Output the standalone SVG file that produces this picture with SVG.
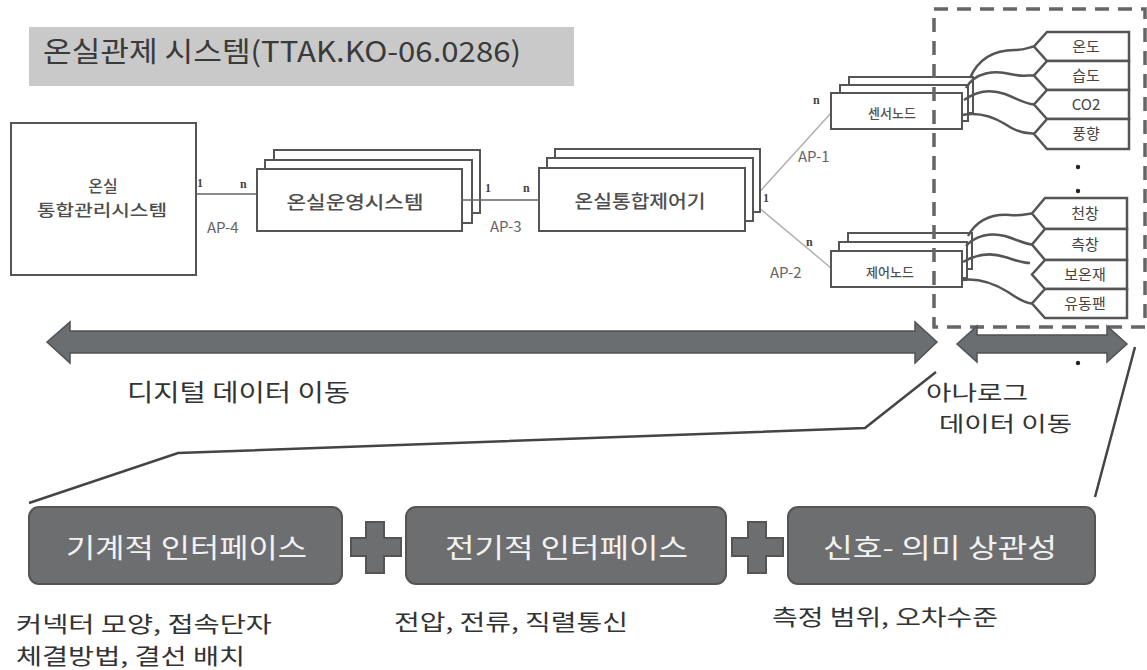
<svg xmlns="http://www.w3.org/2000/svg" width="1147" height="670" viewBox="0 0 1147 670">
<defs>
<style>
.kr{font-family:"Noto Sans CJK KR","Noto Sans",sans-serif;}
.box{fill:#fff;stroke:#555;stroke-width:2;}
.lbl{fill:#4f4f4f;font-weight:500;}
.num{font-family:"Liberation Serif",serif;font-size:12px;font-weight:bold;fill:#444;}
.ap{font-family:"Noto Sans CJK KR","Noto Sans",sans-serif;font-size:15px;fill:#666;}
.wire{fill:none;stroke:#555;stroke-width:2.5;}
.tag{fill:#fff;stroke:#555;stroke-width:2.5;}
.tagt{font-size:15px;fill:#444;text-anchor:middle;}
.conn{stroke:#666;stroke-width:1.5;fill:none;}
.connl{stroke:#b0b0b0;stroke-width:1.5;fill:none;}
.arrow{fill:#6b6e70;stroke:#505254;stroke-width:1.5;}
.ibox{fill:#6d6e70;stroke:#555;stroke-width:2;}
.itxt{font-size:27px;fill:#f2f2f2;}
.cap{font-size:22px;fill:#333;}
.big{font-size:24px;fill:#333;}
.lead{fill:none;stroke:#444;stroke-width:2.5;}
</style>
</defs>

<g id="title">
<rect x="29" y="27" width="545" height="59" fill="#c9c9c9"/>
<text class="kr" x="43" y="62" font-size="28" fill="#3a3a3a" textLength="478" lengthAdjust="spacingAndGlyphs">온실관제 시스템(TTAK.KO-06.0286)</text>
</g>

<g id="connectors">
<line class="conn" x1="196" y1="194" x2="257" y2="194"/>
<line class="connl" x1="745" y1="208" x2="831" y2="113"/>
<line class="connl" x1="745" y1="196" x2="831" y2="268"/>
</g>

<g id="node-integrated-mgmt">
<rect class="box" x="11" y="123" width="185" height="152"/>
<text class="kr lbl" x="103" y="192" font-size="16" text-anchor="middle">온실</text>
<text class="kr lbl" x="102" y="216" font-size="16" text-anchor="middle" textLength="130" lengthAdjust="spacingAndGlyphs">통합관리시스템</text>
</g>

<g id="node-operation">
<rect class="box" x="274" y="150" width="206" height="63"/>
<rect class="box" x="265" y="160" width="207" height="63"/>
<rect class="box" x="257" y="169" width="205" height="62"/>
<text class="kr lbl" x="355" y="209" font-size="18" text-anchor="middle" textLength="137" lengthAdjust="spacingAndGlyphs">온실운영시스템</text>
</g>

<g id="node-controller">
<rect class="box" x="555" y="149" width="205" height="63"/>
<rect class="box" x="547" y="158" width="206" height="63"/>
<rect class="box" x="539" y="168" width="206" height="63"/>
<text class="kr lbl" x="640" y="208" font-size="18" text-anchor="middle" textLength="131" lengthAdjust="spacingAndGlyphs">온실통합제어기</text>
</g>

<g id="connectors-ap3">
<line class="conn" x1="462" y1="200" x2="539" y2="200"/>
</g>

<g id="node-sensor">
<rect class="box" x="849" y="77" width="124" height="36"/>
<rect class="box" x="840" y="85" width="128" height="36"/>
<rect class="box" x="831" y="93" width="131" height="36"/>
<text class="kr lbl" x="892" y="118" font-size="13" text-anchor="middle">센서노드</text>
</g>

<g id="node-control">
<rect class="box" x="848" y="233" width="124" height="36"/>
<rect class="box" x="839" y="242" width="128" height="36"/>
<rect class="box" x="831" y="251" width="131" height="36"/>
<text class="kr lbl" x="890" y="277" font-size="13" text-anchor="middle">제어노드</text>
</g>

<g id="labels">
<text class="num" x="197" y="187">1</text>
<text class="num" x="240" y="188">n</text>
<text class="ap" x="207" y="233">AP-4</text>
<text class="num" x="485" y="192">1</text>
<text class="num" x="523" y="192">n</text>
<text class="ap" x="490" y="232">AP-3</text>
<text class="num" x="763" y="202">1</text>
<text class="num" x="813" y="104">n</text>
<text class="ap" x="798" y="162">AP-1</text>
<text class="num" x="806" y="246">n</text>
<text class="ap" x="770" y="278">AP-2</text>
</g>

<g id="sensor-wires">
<path class="wire" d="M970,78 C980,55 1000,50 1015,50 C1025,50 1030,47 1034,46.5"/>
<path class="wire" d="M966,88 C975,72 995,70 1010,74 C1022,77 1028,75 1034,75.5"/>
<path class="wire" d="M964,100 C975,92 988,88 1005,94 C1018,99 1025,104 1034,104.5"/>
<path class="wire" d="M962,115 C978,112 992,116 1005,124 C1015,131 1025,134 1034,133.5"/>
</g>

<g id="control-wires">
<path class="wire" d="M968,236 C978,218 995,214 1010,215 C1020,216 1026,214 1032,213.5"/>
<path class="wire" d="M966,246 C975,236 990,232 1005,236 C1018,240 1025,244 1032,244.5"/>
<path class="wire" d="M963,262 C975,255 990,252 1005,257 C1015,260 1022,263 1030,263"/>
<path class="wire" d="M962,280 C978,278 995,284 1008,292 C1018,299 1025,303 1032,303.5"/>
</g>

<g id="sensor-tags">
<path class="tag" d="M1047,32 H1129 V61 H1047 L1034,46.5 Z"/>
<path class="tag" d="M1047,61 H1129 V90 H1047 L1034,75.5 Z"/>
<path class="tag" d="M1047,90 H1129 V119 H1047 L1034,104.5 Z"/>
<path class="tag" d="M1047,119 H1129 V149 H1047 L1034,134 Z"/>
<text class="kr tagt" x="1086" y="52">온도</text>
<text class="kr tagt" x="1086" y="81">습도</text>
<text class="kr tagt" x="1086" y="110">CO2</text>
<text class="kr tagt" x="1086" y="139">풍향</text>
<circle cx="1078" cy="167" r="2.2" fill="#222"/>
<circle cx="1078" cy="191" r="2.2" fill="#222"/>
</g>

<g id="control-tags">
<path class="tag" d="M1045,198 H1127 V229 H1045 L1032,213.5 Z"/>
<path class="tag" d="M1045,229 H1127 V260 H1045 L1032,244.5 Z"/>
<path class="tag" d="M1045,260 H1127 V289 H1045 L1032,274.5 Z"/>
<path class="tag" d="M1045,289 H1127 V318 H1045 L1032,303.5 Z"/>
<text class="kr tagt" x="1085" y="219">천창</text>
<text class="kr tagt" x="1085" y="250">측창</text>
<text class="kr tagt" x="1085" y="280">보온재</text>
<text class="kr tagt" x="1085" y="309">유동팬</text>
</g>

<g id="analog-boundary">
<rect x="934" y="9" width="211" height="318" fill="none" stroke="#666" stroke-width="3.5" stroke-dasharray="14 9"/>
</g>

<g id="digital-arrow">
<polygon class="arrow" points="47,342 70,322 70,331 915,331 915,322 937,342 915,363 915,353 70,353 70,363"/>
<text class="kr big" x="127" y="401" textLength="223" lengthAdjust="spacingAndGlyphs">디지털 데이터 이동</text>
</g>

<g id="analog-arrow">
<polygon class="arrow" points="957,344 977,326 977,335 1107,335 1107,326 1127,344 1107,362 1107,353 977,353 977,362"/>
<circle cx="1078" cy="363" r="2.2" fill="#222"/>
<text class="kr" x="926" y="400" font-size="21" fill="#333" textLength="102" lengthAdjust="spacingAndGlyphs">아나로그</text>
<text class="kr" x="939" y="431" font-size="21" fill="#333" textLength="133" lengthAdjust="spacingAndGlyphs">데이터 이동</text>
</g>

<g id="leader-lines">
<polyline class="lead" points="936,372 865,428 178,453 29,503"/>
<line class="lead" x1="1135" y1="347" x2="1095" y2="497"/>
</g>

<g id="iface-mechanical">
<rect class="ibox" x="29" y="507" width="313" height="77" rx="10"/>
<text class="kr itxt" x="66" y="558" textLength="241" lengthAdjust="spacingAndGlyphs">기계적 인터페이스</text>
<text class="kr cap" x="16" y="632" textLength="256" lengthAdjust="spacingAndGlyphs">커넥터 모양, 접속단자</text>
<text class="kr cap" x="16" y="664" textLength="229" lengthAdjust="spacingAndGlyphs">체결방법, 결선 배치</text>
</g>

<g id="plus-1">
<polygon class="ibox" points="366,522 384,522 384,538 401,538 401,556 384,556 384,573 366,573 366,556 351,556 351,538 366,538"/>
</g>

<g id="iface-electrical">
<rect class="ibox" x="406" y="507" width="320" height="77" rx="10"/>
<text class="kr itxt" x="445" y="558" textLength="243" lengthAdjust="spacingAndGlyphs">전기적 인터페이스</text>
<text class="kr cap" x="394" y="630" textLength="234" lengthAdjust="spacingAndGlyphs">전압, 전류, 직렬통신</text>
</g>

<g id="plus-2">
<polygon class="ibox" points="748,522 766,522 766,538 783,538 783,556 766,556 766,573 748,573 748,556 732,556 732,538 748,538"/>
</g>

<g id="iface-signal">
<rect class="ibox" x="788" y="507" width="307" height="77" rx="10"/>
<text class="kr itxt" x="823" y="558" textLength="234" lengthAdjust="spacingAndGlyphs">신호- 의미 상관성</text>
<text class="kr cap" x="772" y="625" textLength="226" lengthAdjust="spacingAndGlyphs">측정 범위, 오차수준</text>
</g>
</svg>
